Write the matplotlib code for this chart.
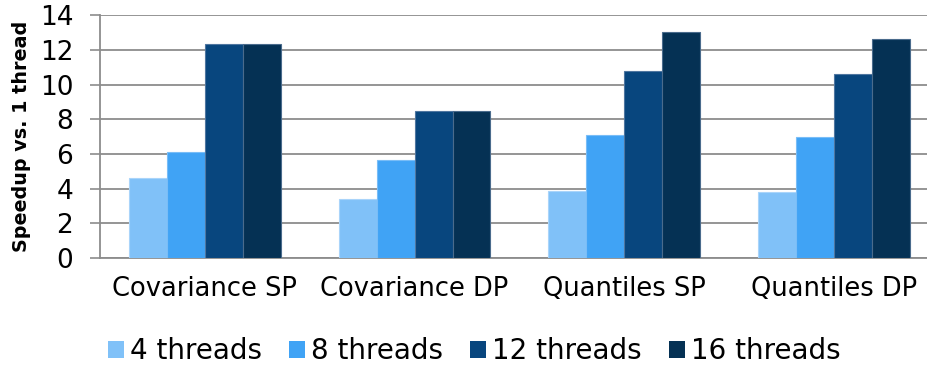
import numpy as np
import matplotlib
matplotlib.use("Agg")
import matplotlib.pyplot as plt
from matplotlib.patches import Patch

# Data
categories = ["Covariance SP", "Covariance DP", "Quantiles SP", "Quantiles DP"]
series = ["4 threads", "8 threads", "12 threads", "16 threads"]
t4 = [4.60, 3.39, 3.87, 3.81]
t8 = [6.13, 5.65, 7.08, 6.98]
t12 = [12.33, 8.48, 10.81, 10.62]
t16 = [12.33, 8.48, 13.06, 12.65]
yticks = [0, 2, 4, 6, 8, 10, 12, 14]

colors = ["#80c1f8", "#40a3f5", "#08467e", "#053154"]
edges = ["#a9d4fa", "#79bdf7", "#4f76a0", "#4a6b8c"]

plt.rcParams["font.family"] = "DejaVu Sans"

fig = plt.figure(figsize=(9.28, 3.65), dpi=100)
ax = fig.add_axes([100 / 928, 107 / 365, 838.8 / 928, 242.7 / 365])

x = np.arange(len(categories))
w = 0.181
values = [t4, t8, t12, t16]
for i, vals in enumerate(values):
    ax.bar(x + (i - 1.5) * w, vals, w, color=colors[i], edgecolor=edges[i],
           linewidth=0.8, zorder=3, label=series[i])

ax.set_xlim(-0.5, 3.5)
ax.set_ylim(0, 14)
ax.set_yticks(yticks)
ax.set_yticklabels([str(v) for v in yticks], fontsize=19)
ax.set_xticks(x)
ax.set_xticklabels(categories, fontsize=18.5)
ax.tick_params(axis="x", length=0, pad=13)
ax.tick_params(axis="y", length=7.2, width=1.2, color="#8c8c8c", pad=12)

ax.yaxis.grid(True, color="#8c8c8c", linewidth=1.3, zorder=0)
ax.set_axisbelow(True)
for s in ["top", "right"]:
    ax.spines[s].set_visible(False)
for s in ["left", "bottom"]:
    ax.spines[s].set_color("#8c8c8c")
    ax.spines[s].set_linewidth(1.3)

fig.text(22 / 928, 0.293 + 0.665 / 2, "Speedup vs. 1 thread", rotation=90,
         fontsize=13.8, fontweight="bold", ha="center", va="center")

handles = [Patch(facecolor=c) for c in colors]
fig.legend(handles, series, loc="center", bbox_to_anchor=(0.511, 0.038),
           ncol=4, frameon=False, fontsize=20, handlelength=0.57,
           handleheight=0.55, handletextpad=0.2, columnspacing=1.0,
           borderpad=0, borderaxespad=0)

fig.savefig("out.png", dpi=100)
